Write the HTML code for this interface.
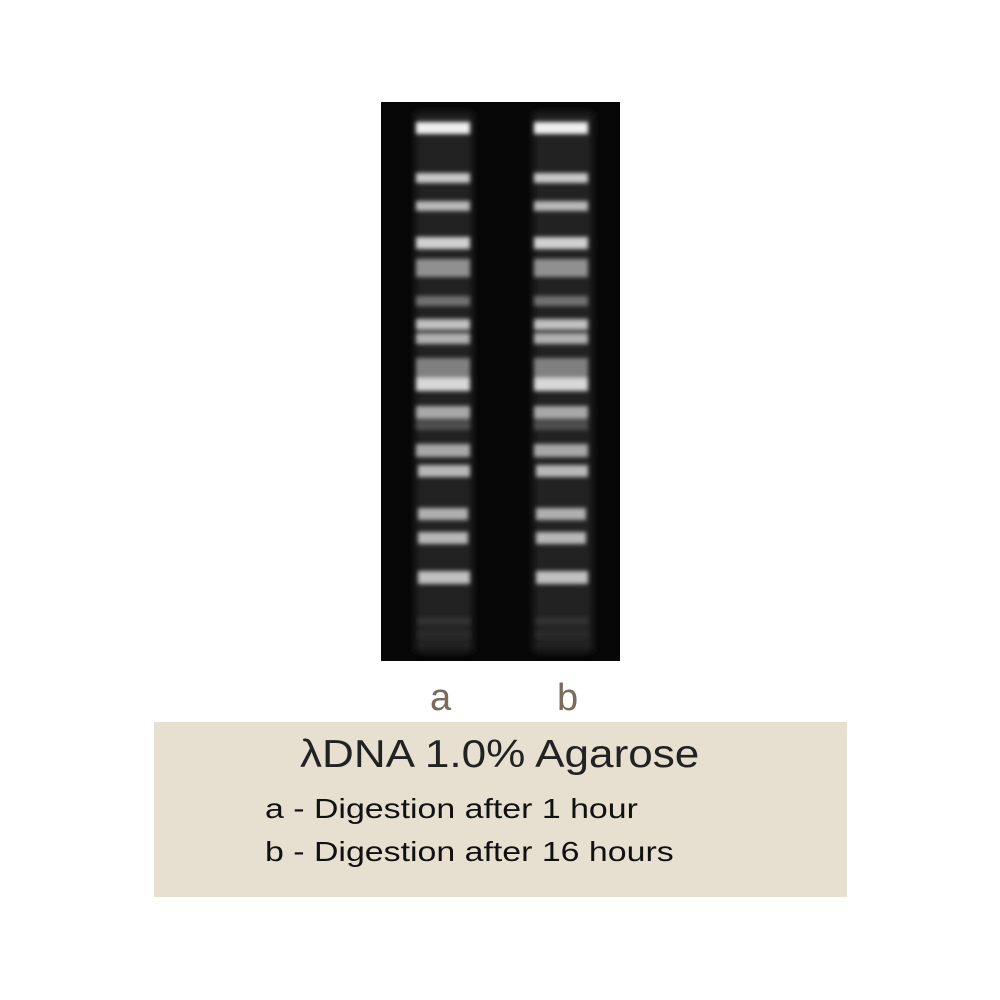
<!DOCTYPE html>
<html><head><meta charset="utf-8"><style>
body{margin:0;width:1000px;height:1000px;background:#fff;position:relative;overflow:hidden;font-family:"Liberation Sans",sans-serif}
.t{position:absolute;white-space:nowrap;line-height:1;transform-origin:0 0}
</style></head><body>
<svg style="position:absolute;left:381px;top:102px" width="239" height="559">
<defs><filter id="b" x="-20%" y="-100%" width="140%" height="300%"><feGaussianBlur stdDeviation="2"/></filter>
<filter id="b2" x="-20%" y="-100%" width="140%" height="300%"><feGaussianBlur stdDeviation="4"/></filter></defs>
<rect width="239" height="559" fill="#060606"/>
<g filter="url(#b2)" fill="#222">
<rect x="34" y="10" width="58" height="540"/><rect x="152" y="10" width="60" height="540"/>
</g>
<g filter="url(#b)">
<g id="L">
<rect x="35" y="20" width="54" height="12" fill="#f0f0f0"/>
<rect x="35" y="71" width="54" height="10" fill="#c8c8c8"/>
<rect x="35" y="99" width="54" height="10" fill="#b8b8b8"/>
<rect x="35" y="135" width="54" height="12" fill="#d0d0d0"/>
<rect x="35" y="157" width="54" height="18" fill="#909090"/>
<rect x="35" y="194" width="54" height="10" fill="#707070"/>
<rect x="35" y="217" width="54" height="11" fill="#c0c0c0"/>
<rect x="35" y="231" width="54" height="11" fill="#b0b0b0"/>
<rect x="35" y="256" width="54" height="30" fill="#808080"/>
<rect x="35" y="276" width="54" height="13" fill="#d8d8d8"/>
<rect x="35" y="304" width="54" height="13" fill="#a8a8a8"/>
<rect x="35" y="319" width="54" height="9" fill="#505050"/>
<rect x="35" y="342" width="54" height="13" fill="#a8a8a8"/>
<rect x="37" y="363" width="52" height="12" fill="#b8b8b8"/>
<rect x="37" y="406" width="50" height="12" fill="#b0b0b0"/>
<rect x="37" y="430" width="50" height="12" fill="#b8b8b8"/>
<rect x="37" y="469" width="52" height="13" fill="#c0c0c0"/>
<rect x="37" y="515" width="52" height="8" fill="#303030"/>
<rect x="37" y="528" width="52" height="8" fill="#2c2c2c"/>
</g>
<use href="#L" transform="translate(118,0)"/>
</g>
</svg>
<div class="t" style="left:430px;top:679px;font-size:38px;color:#7a6b5a">a</div>
<div class="t" style="left:557px;top:679px;font-size:38px;color:#7a6b5a">b</div>
<div style="position:absolute;left:154px;top:722px;width:693px;height:175px;background:#e7e0d1"></div>
<div class="t" style="left:300px;top:735px;font-size:39px;color:#222;transform:scaleX(1.13)">λDNA 1.0% Agarose</div>
<div class="t" style="left:265px;top:795px;font-size:28px;color:#111;transform:scaleX(1.21)">a - Digestion after 1 hour</div>
<div class="t" style="left:265px;top:838px;font-size:28px;color:#111;transform:scaleX(1.21)">b - Digestion after 16 hours</div>
</body></html>
